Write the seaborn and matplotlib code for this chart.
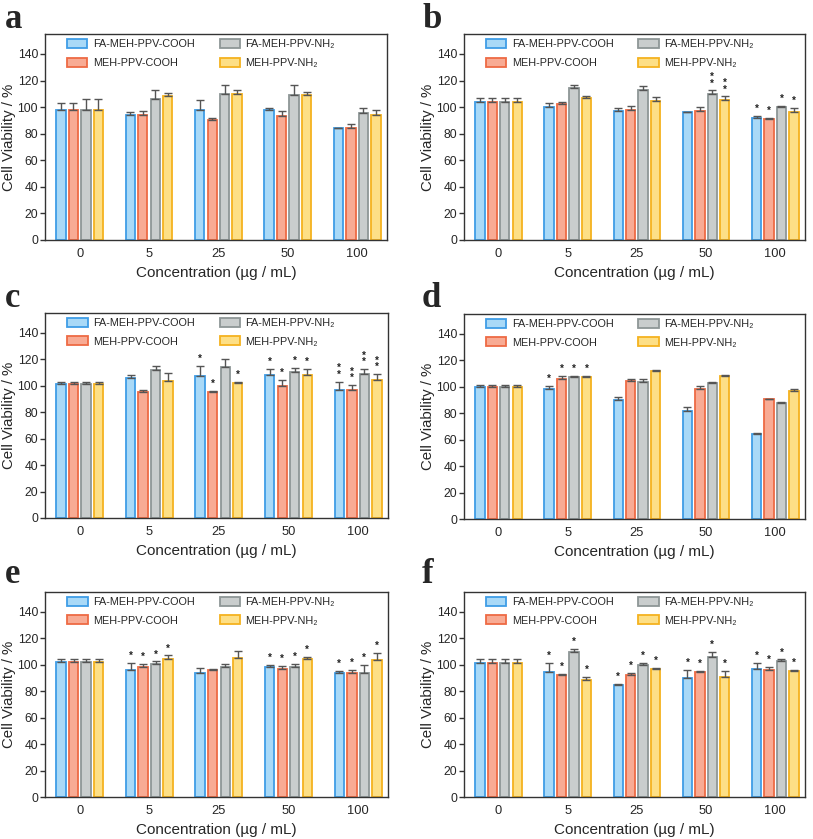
import numpy as np
import pandas as pd
import matplotlib
matplotlib.use("Agg")
import matplotlib.pyplot as plt
from matplotlib.patches import Patch
import seaborn as sns

# ── Data (rows: series, columns: concentration) ─────────────
CONC = ["0", "5", "25", "50", "100"]
SERIES = ["FA-MEH-PPV-COOH", "MEH-PPV-COOH", "FA-MEH-PPV-NH₂", "MEH-PPV-NH₂"]
PANELS = ["a", "b", "c", "d", "e", "f"]

mean_a = [[98, 94, 98, 97.5, 84], [98, 94, 90, 93.5, 84.5],
          [98, 106, 109.5, 109, 95.5], [98, 108.5, 110, 109, 94]]
err_a = [[5, 2.5, 7, 2, 0.5], [5, 3, 2, 3.5, 2.5],
         [8, 7, 7.5, 7.5, 4], [8, 2, 3, 2, 4]]
star_a = [[0, 0, 0, 0, 0]] * 4

mean_b = [[104, 100, 97, 96, 92], [104, 102.5, 98, 97, 91],
          [104, 114, 113, 110, 100], [104, 106.5, 104.5, 105, 96.5]]
err_b = [[2.5, 3, 2.5, 0.5, 1], [2.5, 1.5, 3, 3, 1],
         [2.5, 3, 3, 2.5, 1], [2.5, 2, 3, 3, 2.5]]
star_b = [[0, 0, 0, 0, 1], [0, 0, 0, 0, 1], [0, 0, 0, 2, 1], [0, 0, 0, 2, 1]]

mean_c = [[101, 106, 107.5, 108, 96.5], [101, 95, 95.5, 99.5, 96.5],
          [101, 112, 114.5, 110.5, 109], [101, 103.5, 102, 108.5, 104.5]]
err_c = [[1.5, 2.5, 7.5, 4.5, 6.5], [1.5, 1.5, 0.5, 5, 4],
         [1.5, 3, 5.5, 3, 3.5], [1.5, 6, 1, 4.5, 4.5]]
star_c = [[0, 0, 1, 1, 2], [0, 0, 1, 1, 2], [0, 0, 0, 1, 2], [0, 0, 1, 1, 2]]

mean_d = [[100, 98.5, 90, 81.5, 64.5], [100, 106, 104, 98.5, 90.5],
          [100, 107, 103.5, 102.5, 87.5], [100, 107, 112, 108.5, 97]]
err_d = [[1, 2, 2.5, 3.5, 0.5], [1, 2.5, 1.5, 2, 0.5],
         [1, 1, 2.5, 1, 1], [1, 1.5, 0.5, 0.5, 1]]
star_d = [[0, 1, 0, 0, 0]] * 4

mean_e = [[102, 96, 93.5, 98, 94], [102, 98, 96, 97, 93.5],
          [102, 100.5, 98.5, 98, 94], [102, 104.5, 105, 104.5, 103.5]]
err_e = [[2, 5, 4, 2, 1], [2, 2.5, 1, 2, 2.5],
         [2, 2, 2, 2.5, 5.5], [2, 2.5, 5.5, 1.5, 5.5]]
star_e = [[0, 1, 0, 1, 1]] * 4

mean_f = [[101, 94.5, 84.5, 90, 97], [101, 92, 92, 94.5, 96],
          [101, 110, 100, 105.5, 103], [101, 88.5, 96.5, 90.5, 95]]
err_f = [[3, 6.5, 1, 6, 4], [3, 1, 1.5, 1, 2],
         [3, 2, 1, 4, 1], [3, 2.5, 1, 4.5, 1]]
star_f = [[0, 1, 1, 1, 1]] * 4

FACE = ["#a9d9f7", "#f8ab94", "#c9cdcd", "#fddf86"]
EDGE = ["#3f9de6", "#ee6a44", "#8e9696", "#f5b21f"]

# ── Style ───────────────────────────────────────────────────
sns.set_theme(style="ticks")
plt.rcParams["font.family"] = ["Liberation Sans", "DejaVu Sans"]

W, H = 813, 839
fig = plt.figure(figsize=(W / 100, H / 100), dpi=100)

# axes boxes in pixels: left, top, right, bottom
boxes = [(45, 34, 387, 240), (464, 34, 805, 240),
         (45, 313, 388, 518), (464, 314, 805, 519),
         (45, 592, 388, 797), (464, 592, 805, 797)]
letter_pos = [(5, 28), (422, 28), (5, 307), (422, 307), (5, 583), (422, 583)]

data = [(mean_a, err_a, star_a), (mean_b, err_b, star_b), (mean_c, err_c, star_c),
        (mean_d, err_d, star_d), (mean_e, err_e, star_e), (mean_f, err_f, star_f)]


def draw_panel(ax, means, errs, stars):
    rows = []
    for s, name in enumerate(SERIES):
        for c, conc in enumerate(CONC):
            rows.append({"conc": conc, "series": name, "value": means[s][c]})
    df = pd.DataFrame(rows)
    sns.barplot(data=df, x="conc", y="value", hue="series",
                order=CONC, hue_order=SERIES,
                palette=dict(zip(SERIES, FACE)),
                width=0.72, gap=0.25, errorbar=None, legend=False,
                saturation=1, ax=ax)

    bar_sets = list(ax.containers)
    for s, cont in enumerate(bar_sets):
        for c, bar in enumerate(cont):
            bar.set_edgecolor(EDGE[s])
            bar.set_linewidth(1.3)
            x = bar.get_x() + bar.get_width() / 2
            top = bar.get_height()
            e = errs[s][c]
            ax.errorbar(x, top, yerr=[[0], [e]], fmt="none", ecolor="#555555",
                        elinewidth=1, capsize=2.6, capthick=1, zorder=3)
            if stars[s][c]:
                ax.annotate("\n".join(["*"] * stars[s][c]), (x, top + e),
                            xytext=(0, 1.5), textcoords="offset points",
                            ha="center", va="bottom", linespacing=0.55,
                            fontsize=7, fontweight="bold", color="#222222")

    ax.set_xlim(-0.5, 4.43)
    ax.set_ylim(0, 155)
    ax.set_yticks(np.arange(0, 141, 20))
    ax.tick_params(axis="x", length=0, labelsize=9.3, pad=6)
    ax.tick_params(axis="y", length=3.5, width=1, labelsize=8.8, pad=1.5,
                   color="#333333")
    for sp in ax.spines.values():
        sp.set_visible(True)
        sp.set_color("#333333")
        sp.set_linewidth(1)
    ax.set_xlabel("Concentration (µg / mL)", fontsize=11, labelpad=4)
    ax.set_ylabel("Cell Viability / %", fontsize=10.8)
    ax.yaxis.set_label_coords(-0.085, 0.5)

    handles = [Patch(facecolor=FACE[i], edgecolor=EDGE[i], linewidth=1.3, label=SERIES[i])
               for i in range(4)]
    ax.legend(handles=handles, ncol=2, frameon=False, loc="upper left",
              bbox_to_anchor=(0.064, 0.975), borderpad=0, borderaxespad=0,
              fontsize=7.8, handlelength=1.9, handleheight=0.9,
              handletextpad=0.5, labelspacing=0.75, columnspacing=2.3)


for (l, t, r, b), (means, errs, stars), letter, (lx, ly) in zip(boxes, data, PANELS, letter_pos):
    ax = fig.add_axes([l / W, 1 - b / H, (r - l) / W, (b - t) / H])
    draw_panel(ax, means, errs, stars)
    fig.text(lx / W, 1 - ly / H, letter, family="Liberation Serif",
             fontweight="bold", fontsize=25, va="baseline", ha="left")

fig.savefig("out.png", dpi=100)
